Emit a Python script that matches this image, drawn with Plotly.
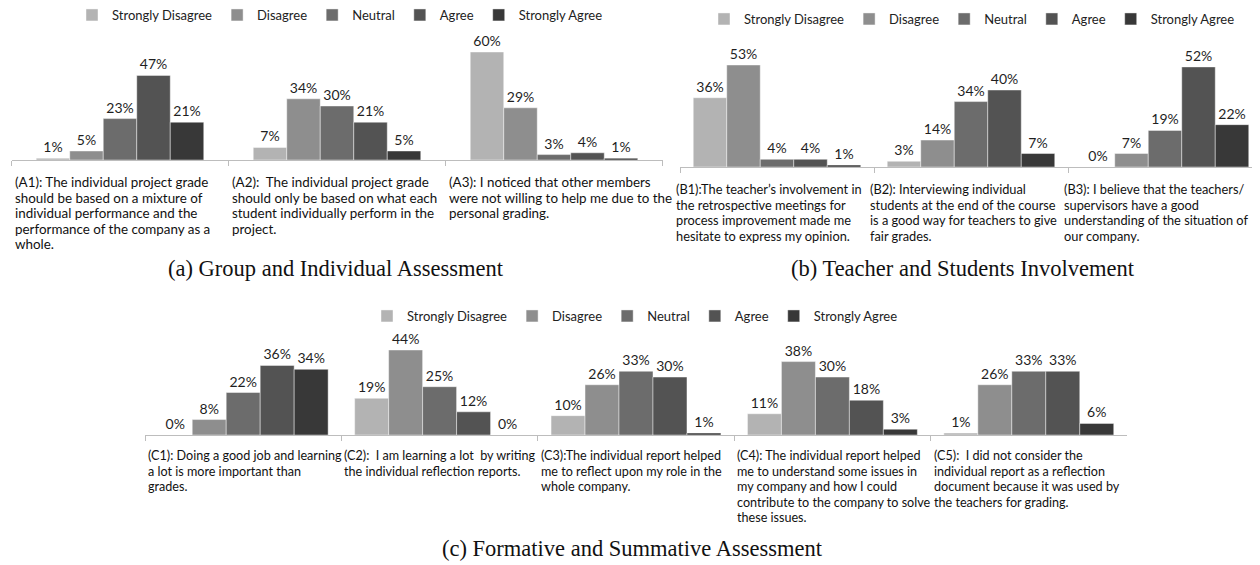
import plotly.graph_objects as go

# ---------------- data ----------------
levels = ["Strongly Disagree", "Disagree", "Neutral", "Agree", "Strongly Agree"]
colors = ["#b3b3b3", "#8e8e8e", "#6c6c6c", "#535353", "#383838"]

a_questions = ["A1", "A2", "A3"]
a_sd = [1, 7, 60]
a_d = [5, 34, 29]
a_n = [23, 30, 3]
a_a = [47, 21, 4]
a_sa = [21, 5, 1]

b_questions = ["B1", "B2", "B3"]
b_sd = [36, 3, 0]
b_d = [53, 14, 7]
b_n = [4, 34, 19]
b_a = [4, 40, 52]
b_sa = [1, 7, 22]

c_questions = ["C1", "C2", "C3", "C4", "C5"]
c_sd = [0, 19, 10, 11, 1]
c_d = [8, 44, 26, 38, 26]
c_n = [22, 25, 33, 30, 33]
c_a = [36, 12, 30, 18, 33]
c_sa = [34, 0, 1, 3, 6]

a_labels = [
    "(A1): The individual project grade<br>should be based on a mixture of<br>individual performance and the<br>performance of the company as a<br>whole.",
    "(A2):  The individual project grade<br>should only be based on what each<br>student individually perform in the<br>project.",
    "(A3): I noticed that other members<br>were not willing to help me due to the<br>personal grading.",
]
b_labels = [
    "(B1):The teacher\u2019s involvement in<br>the retrospective meetings for<br>process improvement made me<br>hesitate to express my opinion.",
    "(B2): Interviewing individual<br>students at the end of the course<br>is a good way for teachers to give<br>fair grades.",
    "(B3): I believe that the teachers/<br>supervisors have a good<br>understanding of the situation of<br>our company.",
]
c_labels = [
    "(C1): Doing a good job and learning<br>a lot is more important than<br>grades.",
    "(C2):  I am learning a lot  by writing<br>the individual reflection reports.",
    "(C3):The individual report helped<br>me to reflect upon my role in the<br>whole company.",
    "(C4): The individual report helped<br>me to understand some issues in<br>my company and how I could<br>contribute to the company to solve<br>these issues.",
    "(C5):  I did not consider the<br>individual report as a reflection<br>document because it was used by<br>the teachers for grading.",
]

captions = [
    "(a) Group and Individual Assessment",
    "(b) Teacher and Students Involvement",
    "(c) Formative and Summative Assessment",
]

# ---------------- layout helpers ----------------
W, H = 1260, 565
OFF = 8  # default body margin of the html page
SANS = "Lato"
SERIF = "Liberation Serif, Times New Roman, serif"
LINE_H = 15.6


def px_x(v):
    return (v - OFF) / W


def px_y(v):
    return 1 - (v - OFF) / H


panels = [
    dict(q=a_questions, vals=[a_sd, a_d, a_n, a_a, a_sa], labels=a_labels,
         xa="x", ya="y", leg="legend", w=0.1544, xdom=(11.5, 662.5),
         ydom=(160, 52), yr=60, label_top=172, leg_xy=(340, 15),
         cap_xy=(336, 268), lsize=13.4, lshift=1),
    dict(q=b_questions, vals=[b_sd, b_d, b_n, b_a, b_sa], labels=b_labels,
         xa="x2", ya="y2", leg="legend2", w=0.1727, xdom=(680, 1262),
         ydom=(167, 65), yr=53, label_top=179, leg_xy=(972, 19),
         cap_xy=(963, 268), lsize=12.8, lshift=-6),
    dict(q=c_questions, vals=[c_sd, c_d, c_n, c_a, c_sa], labels=c_labels,
         xa="x3", ya="y3", leg="legend3", w=0.173, xdom=(145, 1127),
         ydom=(435, 350), yr=44, label_top=446, leg_xy=(635, 316),
         cap_xy=(632, 548), lsize=12.6, lshift=1),
]

fig = go.Figure()
annotations = []
layout_axes = {}

for pi, p in enumerate(panels):
    w = p["w"]
    for k, level in enumerate(levels):
        vals = p["vals"][k]
        fig.add_trace(go.Bar(
            x=p["q"], y=vals, name=level,
            marker=dict(color=colors[k], line=dict(color="rgba(255,255,255,0.55)", width=0.8)),
            width=w, offset=-2.5 * w + k * w,
            text=[f"{v}%" for v in vals], textposition="outside",
            textfont=dict(family=SANS, size=14, color="#1f1f1f"),
            cliponaxis=False, xaxis=p["xa"], yaxis=p["ya"], legend=p["leg"],
            hoverinfo="skip",
        ))
    n = len(p["q"])
    xkey = "xaxis" if p["xa"] == "x" else "xaxis" + p["xa"][1:]
    ykey = "yaxis" if p["ya"] == "y" else "yaxis" + p["ya"][1:]
    layout_axes[xkey] = dict(
        domain=[px_x(p["xdom"][0]), min(1.0, px_x(p["xdom"][1]))], type="category",
        range=[-0.5, n - 0.5], showline=True, linecolor="#bdbdbd", linewidth=1,
        ticks="outside", tickson="boundaries", ticklen=5, tickcolor="#bdbdbd",
        showticklabels=False, showgrid=False, zeroline=False, anchor=p["ya"],
        fixedrange=True,
    )
    layout_axes[ykey] = dict(
        domain=[px_y(p["ydom"][0]), px_y(p["ydom"][1])], range=[0, p["yr"]],
        visible=False, anchor=p["xa"], fixedrange=True,
    )
    for i, lab in enumerate(p["labels"]):
        for j, line in enumerate(lab.split("<br>")):
            annotations.append(dict(
                text=line, x=i - 0.5, xref=p["xa"], y=px_y(p["label_top"]), yref="paper",
                xanchor="left", yanchor="top", align="left", showarrow=False,
                xshift=p["lshift"], yshift=-j * LINE_H,
                font=dict(family=SANS, size=p["lsize"], color="#111"),
            ))
    annotations.append(dict(
        text=captions[pi], x=px_x(p["cap_xy"][0]), y=px_y(p["cap_xy"][1]),
        xref="paper", yref="paper", xanchor="center", yanchor="middle",
        showarrow=False, font=dict(family=SERIF, size=22.5, color="#111"),
    ))
    lk = p["leg"]
    layout_axes[lk] = dict(
        orientation="h", x=px_x(p["leg_xy"][0]), y=px_y(p["leg_xy"][1]),
        xanchor="center", yanchor="middle", font=dict(family=SANS, size=13, color="#222"),
        bgcolor="rgba(0,0,0,0)", itemclick=False, itemdoubleclick=False,
        traceorder="normal",
    )

fig.update_layout(
    width=W, height=H, margin=dict(l=0, r=0, t=0, b=0, pad=0, autoexpand=False),
    paper_bgcolor="white", plot_bgcolor="white", barmode="overlay",
    showlegend=True, annotations=annotations, **layout_axes,
)

fig.write_html("out.html")
